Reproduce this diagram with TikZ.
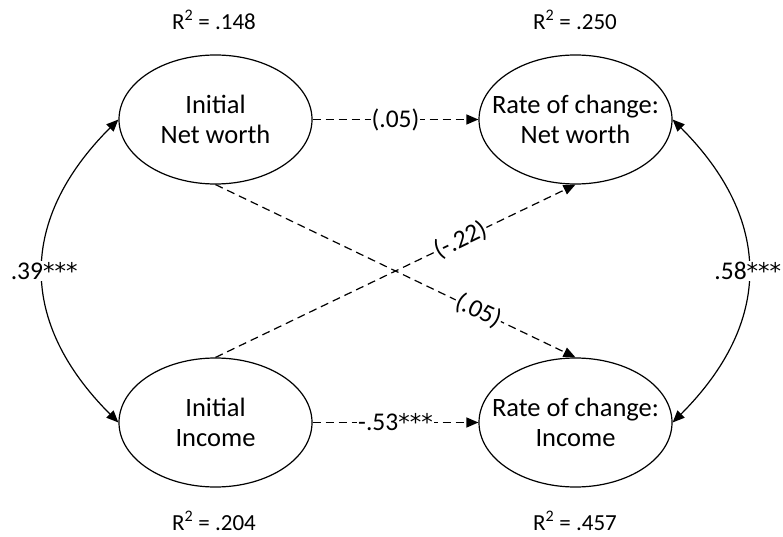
\documentclass[tikz,border=0pt]{standalone}
\usepackage{fontspec}
\setmainfont{Carlito}
\newfontfamily\starfont{DejaVu Sans}
\newcommand\stars{{\starfont\fontsize{23}{26}\selectfont***}}
\newcommand\nlabel[1]{\makebox[0pt]{#1}}
\usepackage{tikz}
\usetikzlibrary{positioning,arrows.meta,shapes.geometric}

\tikzset{
  latent/.style={draw,ellipse,line width=1.2pt,minimum width=193pt,minimum height=129pt,
                 inner sep=0pt,align=center,font=\fontsize{26.5}{30}\selectfont},
  rsq/.style={font=\fontsize{23}{28}\selectfont},
  path/.style={line width=1.2pt,dash pattern=on 8pt off 5pt,-{Triangle[length=12pt,width=10pt]}},
  cov/.style={line width=1.2pt,{Triangle[length=12pt,width=10pt]}-{Triangle[length=12pt,width=10pt]},looseness=1.2},
  est/.style={fill=white,inner sep=1pt,font=\fontsize{25.5}{30}\selectfont}
}

\begin{document}
\begin{tikzpicture}[x=1pt,y=-1pt]
  \useasboundingbox (0,0) rectangle (783,537);

  % latent variables
  \node[latent] (initnw)  at (215.5,119.5) {\nlabel{Initial}\\\nlabel{Net worth}};
  \node[latent] (ratenw)  at (575.5,119.5) {\nlabel{Rate of change:}\\\nlabel{Net worth}};
  \node[latent] (initinc) at (215.5,422.5) {\nlabel{Initial}\\\nlabel{Income}};
  \node[latent] (rateinc) at (575.5,422.5) {\nlabel{Rate of change:}\\\nlabel{Income}};

  % explained variance
  \node[rsq] (r2a) at (214,20)  {R\textsuperscript{2} = .148};
  \node[rsq] (r2b) at (575,20)  {R\textsuperscript{2} = .250};
  \node[rsq] (r2c) at (214,521) {R\textsuperscript{2} = .204};
  \node[rsq] (r2d) at (575,521) {R\textsuperscript{2} = .457};

  % regression paths
  \draw[path] (initnw.east) -- node[est] {(.05)} (ratenw.west);
  \draw[path] (initinc.east) -- node[est] {-.53\stars} (rateinc.west);
  \draw[path] (initnw.south) -- node[est,sloped,pos=0.73] {(.05)} (rateinc.north);
  \draw[path] (initinc.north) -- node[est,sloped,pos=0.68] {(-.22)} (ratenw.south);

  % covariances
  \draw[cov] (initnw.west) to[out=225,in=135] node[est,xshift=1pt] {.39\stars} (initinc.west);
  \draw[cov] (ratenw.east) to[out=-45,in=45] node[est] {.58\stars} (rateinc.east);
\end{tikzpicture}
\end{document}
